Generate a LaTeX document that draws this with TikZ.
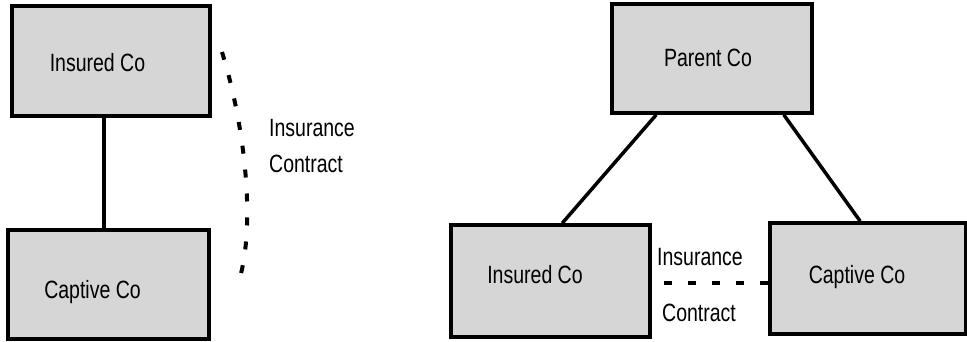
\documentclass[tikz,border=0pt]{standalone}
\usepackage{fontspec}
\setmainfont[FakeStretch=0.78]{Liberation Sans}
\usetikzlibrary{calc}
\begin{document}
\begin{tikzpicture}[x=1pt,y=-1pt,
  box/.style={draw=black, line width=3.6pt, fill=black!16, inner sep=0pt},
  lbl/.style={inner sep=0pt, anchor=base, font=\fontsize{25}{28}\selectfont},
  side/.style={inner sep=0pt, anchor=base west, font=\fontsize{25}{28}\selectfont},
  link/.style={line width=3.5pt},
  contract/.style={line width=4pt, dash pattern=on 8pt off 16pt}]
\fill[white] (0,0) rectangle (967,341);
\useasboundingbox (0,0) rectangle (967,341);
% left diagram
\node[box, minimum width=198pt, minimum height=110pt] (lt) at (111,61) {};
\node[box, minimum width=201pt, minimum height=109pt] (lb) at (108.5,284.5) {};
\node[lbl] (ltt) at (97.5,71) {Insured Co};
\node[lbl] (lbt) at (92.5,298) {Captive Co};
\draw[link] ([xshift=-7pt]lt.south) -- ([xshift=-7pt]lt.south |- lb.north);
\coordinate (ca) at (222,52);
\coordinate (cb) at (238,284);
\draw[contract] (ca) .. controls (246,130) and (256,230) .. (cb);
\node[side] (li1) at (269,136) {Insurance};
\node[side] (li2) at (269,172) {Contract};
% right diagram
\node[box, minimum width=200pt, minimum height=109pt] (par) at (712,58.5) {};
\node[box, minimum width=199pt, minimum height=112pt] (ins) at (550.5,281) {};
\node[box, minimum width=196pt, minimum height=111pt] (cap) at (868,278.5) {};
\node[lbl] (part) at (708,66) {Parent Co};
\node[lbl] (inst) at (535,283) {Insured Co};
\node[lbl] (capt) at (857,283) {Captive Co};
\draw[link] ([xshift=46pt]par.south west) -- ([xshift=113pt]ins.north west);
\draw[link] ([xshift=-30pt]par.south east) -- ([xshift=92pt]cap.north west);
\draw[contract] ([xshift=12pt,yshift=-2pt]ins.east) -- ([yshift=-4.5pt]cap.west);
\node[side] (ri1) at (657,265) {Insurance};
\node[side] (ri2) at (662,321) {Contract};
\end{tikzpicture}
\end{document}
